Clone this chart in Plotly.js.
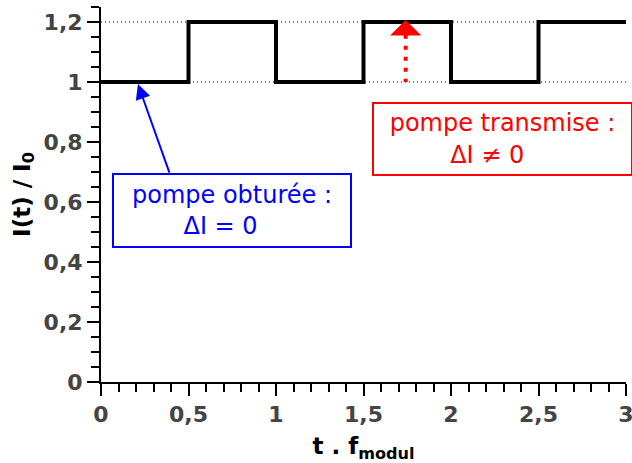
<!DOCTYPE html>
<html><head><meta charset="utf-8">
<script src="https://cdn.plot.ly/plotly-3.0.1.min.js"></script>
<style>html,body{margin:0;padding:0;background:#fff}</style>
</head><body><div id="chart" style="width:632px;height:463px"></div>
<script>
// ---- data ----
const stepTimes = [0, 0.5, 1, 1.5, 2, 2.5, 3];
const intensity = [1, 1.2, 1, 1.2, 1, 1.2, 1.2];
const refLevels = [1, 1.2];
const pumpOffText = "pompe obturée :<br>ΔI = 0\u00a0\u00a0\u00a0";
const pumpOnText = "pompe transmise :<br>ΔI ≠ 0\u00a0\u00a0\u00a0\u00a0";
const xTitle = "<b>t . f<sub>modul</sub></b>";
const yTitle = "<b>I(t) / I<sub>0</sub></b>";

const FONT = "DejaVu Sans";
const BLUE = "#0000ff", RED = "#ff0000";

const trace = {
  x: stepTimes, y: intensity, type: "scatter", mode: "lines",
  line: {shape: "hv", color: "#000", width: 4}, hoverinfo: "skip", showlegend: false
};

const shapes = refLevels.map(v => ({
  type: "line", xref: "paper", x0: 0, x1: 1, yref: "y", y0: v, y1: v,
  layer: "below", line: {color: "#000", width: 1, dash: "1px,3px"}
}));
shapes.push({
  type: "line", xref: "x", yref: "y", x0: 1.741, x1: 1.741, y0: 1.157, y1: 1.0,
  line: {color: RED, width: 4, dash: "4px,7px"}
});

const annotations = [
  {xref: "x", yref: "y", x: 0.7486, y: 0.5717, xanchor: "center", yanchor: "middle",
   showarrow: false, text: pumpOffText, align: "center", valign: "middle",
   font: {family: FONT, size: 24, color: BLUE},
   bordercolor: BLUE, borderwidth: 2, borderpad: 4, bgcolor: "#fff", width: 228, height: 63},
  {xref: "x", yref: "y", x: 2.2926, y: 0.8105, xanchor: "center", yanchor: "middle",
   showarrow: false, text: pumpOnText, align: "center", valign: "middle",
   font: {family: FONT, size: 24, color: RED},
   bordercolor: RED, borderwidth: 2, borderpad: 4, bgcolor: "#fff", width: 249, height: 62},
  {xref: "x", yref: "y", x: 0.211, y: 0.993, axref: "x", ayref: "y", ax: 0.394, ay: 0.693,
   text: "", showarrow: true, arrowhead: 2, arrowsize: 1.5, arrowwidth: 2, arrowcolor: BLUE, standoff: 0},
  {xref: "x", yref: "y", x: 1.741, y: 1.2067, axref: "x", ayref: "y", ax: 1.741, ay: 1.17,
   text: "", showarrow: true, arrowhead: 1, arrowsize: 1.3, arrowwidth: 4, arrowcolor: RED, standoff: 0}
];

const tickFont = {family: FONT, size: 22, color: "#444", weight: "bold"};

const layout = {
  width: 632, height: 463,
  margin: {l: 101, r: 6, t: 7, b: 81, pad: 0},
  paper_bgcolor: "#fff", plot_bgcolor: "#fff",
  separators: ", ",
  showlegend: false,
  font: {family: FONT},
  xaxis: {
    range: [0, 3], tick0: 0, dtick: 0.5, ticks: "outside", ticklen: 12, tickwidth: 2, tickcolor: "#000",
    minor: {dtick: 0.1, ticks: "outside", ticklen: 8, tickwidth: 2, tickcolor: "#000", showgrid: false},
    showline: true, linecolor: "#000", linewidth: 2, showgrid: false, zeroline: false,
    tickfont: tickFont, ticklabeloverflow: "allow",
    title: {text: xTitle, font: {family: FONT, size: 23, color: "#000"}, standoff: 15}
  },
  yaxis: {
    range: [0, 1.2499], tick0: 0, dtick: 0.2, ticks: "outside", ticklen: 12, tickwidth: 2, tickcolor: "#000",
    minor: {dtick: 0.05, ticks: "outside", ticklen: 8, tickwidth: 2, tickcolor: "#000", showgrid: false},
    showline: true, linecolor: "#000", linewidth: 2, showgrid: false, zeroline: false,
    tickfont: tickFont,
    title: {text: yTitle, font: {family: FONT, size: 23, color: "#000"}, standoff: 7}
  },
  shapes: shapes,
  annotations: annotations
};

Plotly.newPlot("chart", [trace], layout, {staticPlot: true, displayModeBar: false});
</script></body></html>
